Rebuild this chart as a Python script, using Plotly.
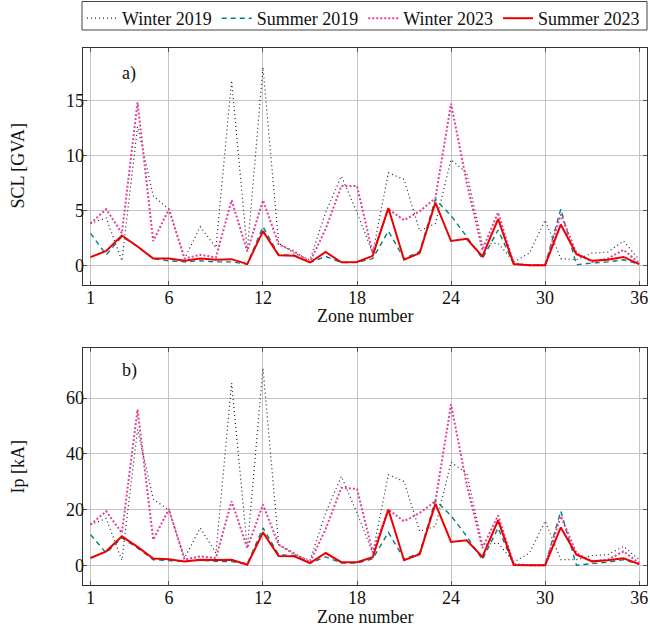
import plotly.graph_objects as go
from plotly.subplots import make_subplots

zones = list(range(1, 37))
x_ticks = [1, 6, 12, 18, 24, 30, 36]

# SCL [GVA]
scl_winter_2019 = [3.8, 4.3, 0.4, 12.6, 6.3, 5.1, 0.6, 3.5, 1.6, 16.8, 1.3, 18.0, 2.0, 1.1, 0.5, 4.8, 8.1, 4.8, 1.1, 8.4, 7.8, 3.1, 3.8, 9.6, 8.4, 1.9, 2.0, 0.3, 1.1, 4.1, 0.6, 0.5, 1.1, 1.2, 2.2, 0.5]
scl_summer_2019 = [2.9, 0.95, 2.6, 1.7, 0.6, 0.4, 0.3, 0.4, 0.3, 0.3, 0.1, 3.5, 0.95, 0.9, 0.25, 0.8, 0.25, 0.25, 0.6, 3.1, 0.6, 1.25, 6.0, 4.5, 2.6, 0.6, 3.2, 0.1, 0.0, 0.0, 5.1, 0.05, 0.2, 0.3, 0.5, 0.1]
scl_winter_2023 = [3.8, 5.1, 2.9, 14.8, 2.2, 5.1, 0.6, 0.95, 0.7, 5.9, 1.25, 5.9, 1.9, 1.25, 0.3, 3.3, 7.2, 7.2, 1.1, 5.1, 4.1, 4.9, 6.1, 14.7, 7.5, 1.4, 4.8, 0.1, 0.0, 0.0, 4.6, 1.1, 0.3, 0.6, 1.4, 0.2]
scl_summer_2023 = [0.73, 1.3, 2.7, 1.7, 0.6, 0.6, 0.4, 0.6, 0.5, 0.55, 0.1, 3.1, 0.9, 0.85, 0.25, 1.2, 0.27, 0.3, 0.85, 5.2, 0.5, 1.1, 5.7, 2.2, 2.4, 0.8, 4.2, 0.1, 0.0, 0.0, 3.7, 1.0, 0.4, 0.5, 0.75, 0.1]

# Ip [kA]
ip_winter_2019 = [14.6, 16.8, 1.8, 48.7, 23.8, 19.7, 2.6, 13.4, 4.4, 65.4, 6.0, 70.8, 7.4, 3.8, 1.8, 18.8, 31.9, 18.8, 4.4, 32.5, 30.1, 12.2, 14.0, 37.0, 33.0, 7.4, 8.0, 1.1, 4.4, 15.9, 2.0, 2.0, 3.5, 3.8, 6.8, 2.0]
ip_summer_2019 = [11.0, 4.4, 9.8, 6.2, 2.0, 1.8, 1.4, 1.8, 1.4, 1.3, 0.5, 13.4, 3.8, 3.5, 0.8, 3.0, 0.8, 0.8, 2.3, 11.8, 2.3, 4.4, 23.3, 17.8, 10.4, 2.0, 13.4, 0.1, 0.0, 0.0, 19.4, 0.0, 0.6, 1.1, 2.0, 0.4]
ip_winter_2023 = [14.6, 19.4, 11.6, 55.9, 9.2, 20.2, 2.0, 3.2, 2.6, 23.0, 6.2, 21.8, 7.4, 4.4, 1.1, 13.0, 27.8, 27.4, 4.7, 20.0, 15.8, 18.8, 23.0, 57.7, 29.0, 6.2, 17.9, 0.4, 0.0, 0.0, 17.6, 4.4, 1.4, 2.0, 5.0, 0.8]
ip_summer_2023 = [2.6, 5.0, 10.4, 6.6, 2.4, 2.2, 1.4, 2.0, 1.9, 2.0, 0.2, 11.8, 3.3, 3.2, 0.8, 4.4, 1.1, 1.1, 2.9, 20.0, 1.8, 4.0, 22.1, 8.4, 9.0, 3.0, 16.1, 0.1, 0.0, 0.0, 13.6, 3.8, 1.4, 1.8, 2.5, 0.4]

series_names = ["Winter 2019", "Summer 2019", "Winter 2023", "Summer 2023"]
styles = [
    dict(color="#222222", width=1.2, dash="1px,3px"),
    dict(color="#008080", width=1.4, dash="5px,4px"),
    dict(color="#e4409a", width=2.0, dash="2px,2px"),
    dict(color="#ee0000", width=2.0, dash="solid"),
]

FONT = "Liberation Serif"
FS = 18

fig = make_subplots(rows=2, cols=1)

top = [scl_winter_2019, scl_summer_2019, scl_winter_2023, scl_summer_2023]
bot = [ip_winter_2019, ip_summer_2019, ip_winter_2023, ip_summer_2023]
for name, st, yt, yb in zip(series_names, styles, top, bot):
    fig.add_trace(go.Scatter(x=zones, y=yt, mode="lines", name=name, line=st,
                             legendgroup=name, showlegend=True), row=1, col=1)
    fig.add_trace(go.Scatter(x=zones, y=yb, mode="lines", name=name, line=st,
                             legendgroup=name, showlegend=False), row=2, col=1)

def yr(series):
    mx = max(max(s) for s in series)
    return [-0.1 * mx, 1.1 * mx]

W, H = 650, 632

def px(x):
    return x / W

def py(y):
    return 1 - y / H

L, R = 82.7, 647
T1, B1 = 47.5, 285
T2, B2 = 348.3, 585

axis_common = dict(
    showline=True, mirror="ticks", linecolor="#333333", linewidth=1,
    ticks="inside", ticklen=4, tickcolor="#555555", tickwidth=1,
    showgrid=True, gridcolor="#c4c4c4", gridwidth=1, zeroline=False,
    tickfont=dict(family=FONT, size=FS, color="#111111"),
)

fig.update_xaxes(**axis_common, range=[0.5, 36.5], tickvals=x_ticks,
                 domain=[px(L), px(R)], ticklabelstandoff=-4)
fig.update_yaxes(**axis_common, ticklabelstandoff=-6)
fig.update_yaxes(range=yr(top), tickvals=[0, 5, 10, 15],
                 domain=[py(B1), py(T1)], row=1, col=1)
fig.update_yaxes(range=yr(bot), tickvals=[0, 20, 40, 60],
                 domain=[py(B2), py(T2)], row=2, col=1)

ann_font = dict(family=FONT, size=FS, color="#111111")
annotations = [
    dict(text="SCL [GVA]", x=px(17.5), y=py(166), textangle=-90),
    dict(text="Ip [kA]", x=px(17.5), y=py(467), textangle=-90),
    dict(text="Zone number", x=px((L + R) / 2), y=py(316)),
    dict(text="Zone number", x=px((L + R) / 2), y=py(617)),
    dict(text="a)", x=px(129), y=py(74)),
    dict(text="b)", x=px(129), y=py(370.5)),
]
for a in annotations:
    a.update(xref="paper", yref="paper", showarrow=False, font=ann_font,
             xanchor="center", yanchor="middle")

fig.add_shape(type="rect", xref="paper", yref="paper",
              x0=px(82), x1=px(647), y0=py(30), y1=py(1.5),
              line=dict(color="#444444", width=1), fillcolor="rgba(0,0,0,0)")

fig.update_layout(
    width=W, height=H,
    margin=dict(l=0, r=0, t=0, b=0),
    plot_bgcolor="white", paper_bgcolor="white",
    annotations=annotations,
    legend=dict(orientation="h", x=px(82), xanchor="left", y=py(0), yanchor="top",
                borderwidth=0, font=dict(family=FONT, size=FS, color="#111111"),
                bgcolor="rgba(0,0,0,0)", tracegroupgap=0, itemwidth=30),
    font=dict(family=FONT, size=FS),
)

fig.write_html(
    "out.html",
    config={"displayModeBar": False},
    post_script=(
        "document.body.style.margin='0px';"
        "document.documentElement.style.overflow='hidden';"
        "document.body.style.overflow='hidden';"
    ),
)
